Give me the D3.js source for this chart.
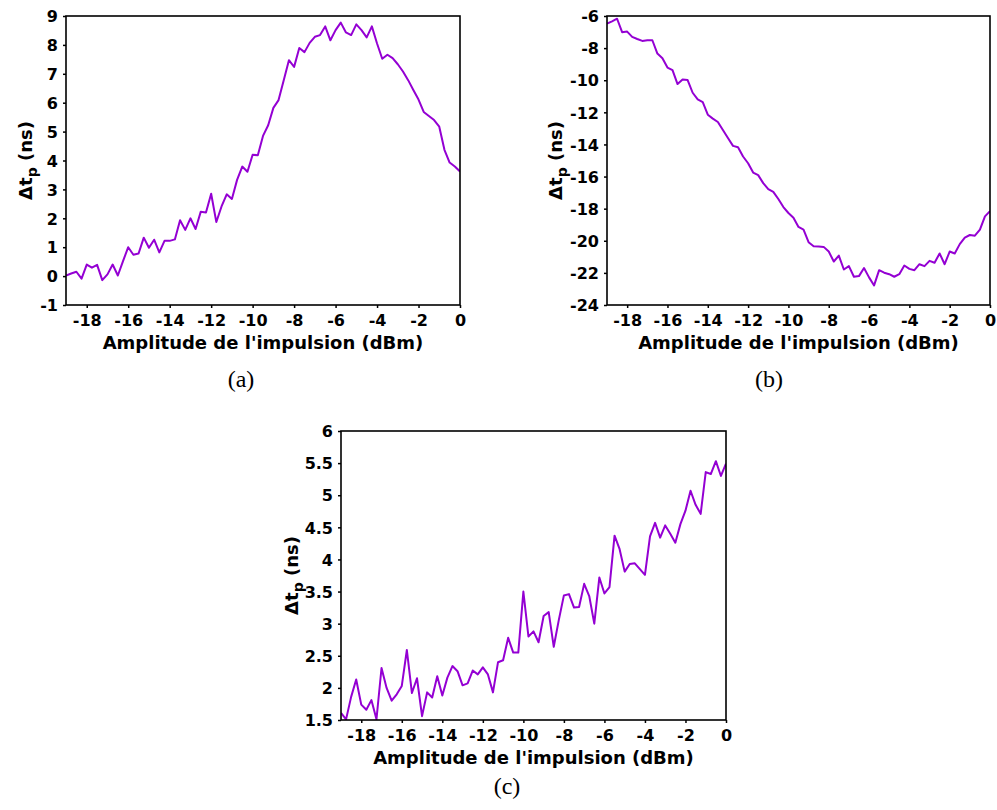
<!DOCTYPE html>
<html>
<head>
<meta charset="utf-8">
<script src="https://cdn.jsdelivr.net/npm/d3@7"></script>
<style>
  html, body { margin: 0; padding: 0; background: #fff; }
  svg text { font-family: "DejaVu Sans", "Liberation Sans", Arial, sans-serif; }
</style>
</head>
<body>
<svg id="chart" width="997" height="810"></svg>
<script>
// Pulse amplitude sweep (dBm), shared by all three measurements
const amplitude = [
  -19, -18.75, -18.5, -18.25, -18, -17.75, -17.5, -17.25, -17, -16.75, -16.5, -16.25,
  -16, -15.75, -15.5, -15.25, -15, -14.75, -14.5, -14.25, -14, -13.75, -13.5, -13.25,
  -13, -12.75, -12.5, -12.25, -12, -11.75, -11.5, -11.25, -11, -10.75, -10.5, -10.25,
  -10, -9.75, -9.5, -9.25, -9, -8.75, -8.5, -8.25, -8, -7.75, -7.5, -7.25,
  -7, -6.75, -6.5, -6.25, -6, -5.75, -5.5, -5.25, -5, -4.75, -4.5, -4.25,
  -4, -3.75, -3.5, -3.25, -3, -2.75, -2.5, -2.25, -2, -1.75, -1.5, -1.25,
  -1, -0.75, -0.5, -0.25, 0
];

// Δt_p (ns), measurement (a)
const delayA = [
  0.02, 0.09, 0.15, -0.09, 0.40, 0.29, 0.39, -0.14, 0.06, 0.40, 0.02, 0.52,
  1.00, 0.74, 0.78, 1.33, 0.98, 1.26, 0.82, 1.22, 1.22, 1.27, 1.93, 1.60,
  2.00, 1.63, 2.23, 2.20, 2.85, 1.87, 2.41, 2.83, 2.67, 3.33, 3.79, 3.61,
  4.20, 4.18, 4.85, 5.22, 5.82, 6.09, 6.78, 7.47, 7.24, 7.89, 7.75, 8.07,
  8.28, 8.34, 8.64, 8.16, 8.51, 8.77, 8.43, 8.34, 8.71, 8.51, 8.26, 8.64,
  8.05, 7.52, 7.66, 7.54, 7.33, 7.08, 6.78, 6.44, 6.11, 5.68, 5.54, 5.40,
  5.17, 4.37, 3.93, 3.79, 3.62
];

// Δt_p (ns), measurement (b)
const delayB = [
  -6.48, -6.33, -6.17, -7.01, -6.97, -7.30, -7.43, -7.55, -7.51, -7.51, -8.34, -8.63,
  -9.21, -9.37, -10.24, -9.95, -9.99, -10.78, -11.19, -11.36, -12.15, -12.39, -12.60, -13.10,
  -13.60, -14.09, -14.17, -14.75, -15.17, -15.75, -15.91, -16.41, -16.78, -16.95, -17.40, -17.90,
  -18.27, -18.56, -19.14, -19.30, -20.09, -20.34, -20.36, -20.38, -20.67, -21.29, -20.92, -21.79,
  -21.58, -22.24, -22.20, -21.70, -22.28, -22.78, -21.83, -21.99, -22.08, -22.24, -22.08, -21.54,
  -21.75, -21.83, -21.46, -21.58, -21.25, -21.37, -20.79, -21.46, -20.67, -20.79, -20.21, -19.80,
  -19.64, -19.68, -19.30, -18.48, -18.15
];

// Δt_p (ns), measurement (c)
const delayC = [
  1.61, 1.51, 1.86, 2.13, 1.74, 1.66, 1.81, 1.51, 2.31, 2.00, 1.80, 1.90,
  2.03, 2.59, 1.92, 2.15, 1.56, 1.93, 1.85, 2.18, 1.88, 2.16, 2.34, 2.26,
  2.04, 2.07, 2.27, 2.21, 2.32, 2.21, 1.93, 2.40, 2.43, 2.78, 2.55, 2.55,
  3.50, 2.80, 2.88, 2.71, 3.12, 3.18, 2.64, 3.06, 3.44, 3.46, 3.25, 3.26,
  3.62, 3.43, 3.00, 3.72, 3.47, 3.57, 4.37, 4.16, 3.81, 3.93, 3.94, 3.85,
  3.76, 4.36, 4.57, 4.34, 4.53, 4.40, 4.26, 4.55, 4.76, 5.07, 4.85, 4.71,
  5.36, 5.33, 5.53, 5.30, 5.49
];

// Axis ticks
const xTicks = [-18, -16, -14, -12, -10, -8, -6, -4, -2, 0];
const yTicksA = [-1, 0, 1, 2, 3, 4, 5, 6, 7, 8, 9];
const yTicksB = [-24, -22, -20, -18, -16, -14, -12, -10, -8, -6];
const yTicksC = [1.5, 2, 2.5, 3, 3.5, 4, 4.5, 5, 5.5, 6];

const xTitle = "Amplitude de l'impulsion (dBm)";
const captions = ["(a)", "(b)", "(c)"];

const lineColor = "#9400d3";
const svg = d3.select("#chart");

const panels = [
  { values: delayA, yDomain: [-1, 9], yTicks: yTicksA, caption: captions[0],
    box: { left: 66, right: 460, top: 16, bottom: 305 }, titleX: 32, captionX: 241, captionY: 379 },
  { values: delayB, yDomain: [-24, -6], yTicks: yTicksB, caption: captions[1],
    box: { left: 607, right: 990, top: 16, bottom: 305 }, titleX: 562, captionX: 769, captionY: 379 },
  { values: delayC, yDomain: [1.5, 6], yTicks: yTicksC, caption: captions[2],
    box: { left: 341, right: 726, top: 431, bottom: 720 }, titleX: 298, captionX: 507, captionY: 786 }
];

panels.forEach((p, i) => {
  const b = p.box;
  const x = d3.scaleLinear().domain([-19, 0]).range([b.left, b.right]);
  const y = d3.scaleLinear().domain(p.yDomain).range([b.bottom, b.top]);
  const g = svg.append("g");

  const clipId = "clip-" + i;
  svg.append("defs").append("clipPath").attr("id", clipId)
    .append("rect")
    .attr("x", b.left).attr("y", b.top)
    .attr("width", b.right - b.left).attr("height", b.bottom - b.top);

  // data curve
  const line = d3.line()
    .x((d, k) => x(amplitude[k]))
    .y(d => y(d));
  g.append("path")
    .datum(p.values)
    .attr("clip-path", `url(#${clipId})`)
    .attr("fill", "none")
    .attr("stroke", lineColor)
    .attr("stroke-width", 2)
    .attr("stroke-linejoin", "round")
    .attr("d", line);

  // frame
  g.append("rect")
    .attr("x", b.left).attr("y", b.top)
    .attr("width", b.right - b.left).attr("height", b.bottom - b.top)
    .attr("fill", "none").attr("stroke", "#000").attr("stroke-width", 1.6);

  // axes
  const fmt = d => String(d);
  const xAxis = g.append("g")
    .attr("transform", `translate(0,${b.bottom})`)
    .call(d3.axisBottom(x).tickValues(xTicks).tickFormat(fmt).tickSize(3).tickPadding(7));
  const yAxis = g.append("g")
    .attr("transform", `translate(${b.left},0)`)
    .call(d3.axisLeft(y).tickValues(p.yTicks).tickFormat(fmt).tickSize(3).tickPadding(5));

  [xAxis, yAxis].forEach(ax => {
    ax.select(".domain").remove();
    ax.selectAll(".tick line").attr("stroke", "#000").attr("stroke-width", 1.5);
    ax.selectAll(".tick text")
      .attr("fill", "#000")
      .style("font-family", "'DejaVu Sans', 'Liberation Sans', sans-serif")
      .style("font-weight", "bold")
      .style("font-size", "16px");
  });
  yAxis.selectAll(".tick text").attr("dy", "0.36em");

  // x title
  g.append("text")
    .attr("x", (b.left + b.right) / 2)
    .attr("y", b.bottom + 44)
    .attr("text-anchor", "middle")
    .style("font-weight", "bold")
    .style("font-size", "18px")
    .attr("fill", "#000")
    .text(xTitle);

  // y title: Δt_p (ns)
  const cy = (b.top + b.bottom) / 2;
  const yt = g.append("text")
    .attr("transform", `translate(${p.titleX},${cy}) rotate(-90)`)
    .attr("text-anchor", "middle")
    .style("font-weight", "bold")
    .style("font-size", "18px")
    .attr("fill", "#000");
  yt.append("tspan").text("\u0394t");
  yt.append("tspan").attr("dy", 5).style("font-size", "14px").text("p");
  yt.append("tspan").attr("dy", -5).text(" (ns)");

  // panel caption
  g.append("text")
    .attr("x", p.captionX)
    .attr("y", p.captionY)
    .attr("dy", "0.35em")
    .attr("text-anchor", "middle")
    .style("font-family", "'Liberation Serif', 'DejaVu Serif', serif")
    .style("font-size", "24px")
    .attr("fill", "#000")
    .text(p.caption);
});
</script>
</body>
</html>
